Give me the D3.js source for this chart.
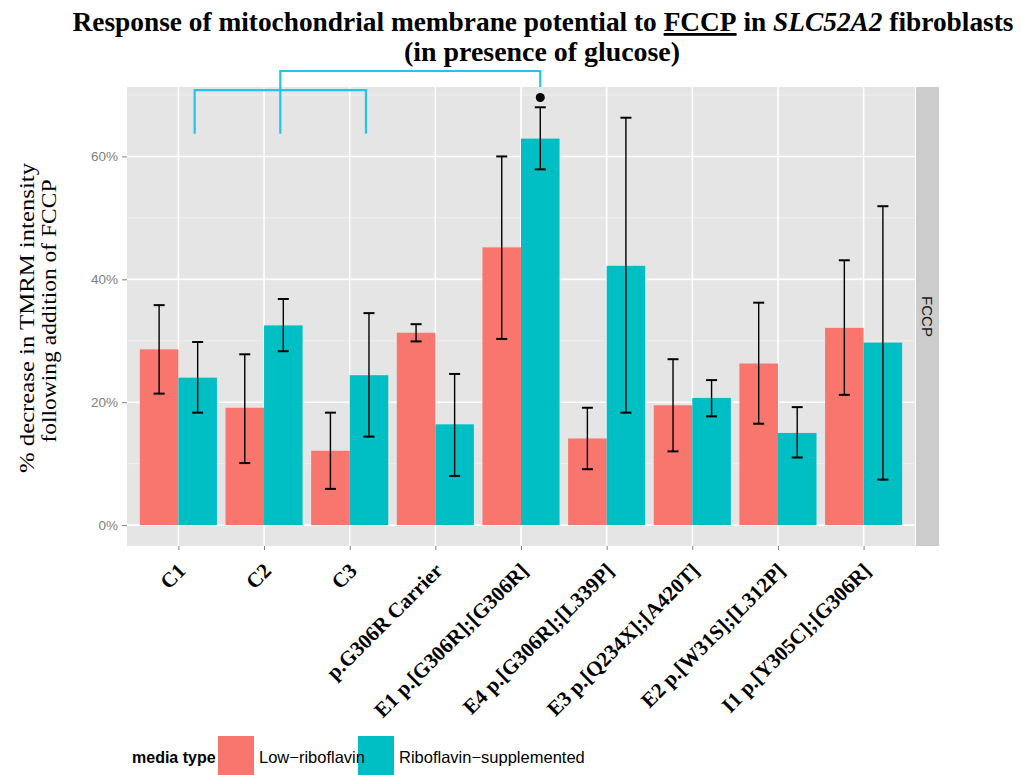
<!DOCTYPE html>
<html>
<head>
<meta charset="utf-8">
<script src="https://cdn.jsdelivr.net/npm/d3@7"></script>
<style>
  html, body { margin: 0; padding: 0; background: #fff; }
  svg { display: block; }
</style>
</head>
<body>
<svg id="chart" width="1021" height="775"></svg>
<script>
// Cell lines (x categories)
const cellLines = [
  "C1", "C2", "C3", "p.G306R Carrier", "E1 p.[G306R];[G306R]",
  "E4 p.[G306R];[L339P]", "E3 p.[Q234X];[A420T]", "E2 p.[W31S];[L312P]",
  "I1 p.[Y305C];[G306R]"
];
const mediaTypes = ["Low\u2212riboflavin", "Riboflavin\u2212supplemented"];

// Mean % decrease in TMRM intensity, with error bar bounds
const lowRiboMean  = [28.6, 19.1, 12.1, 31.3, 45.2, 14.1, 19.5, 26.3, 32.1];
const lowRiboLow   = [21.4, 10.1,  5.9, 29.9, 30.3,  9.1, 12.0, 16.5, 21.2];
const lowRiboHigh  = [35.8, 27.8, 18.3, 32.7, 60.0, 19.1, 27.0, 36.2, 43.1];
const suppMean     = [24.0, 32.5, 24.4, 16.4, 62.9, 42.2, 20.7, 15.0, 29.7];
const suppLow      = [18.3, 28.3, 14.4,  8.0, 57.9, 18.3, 17.7, 11.0,  7.4];
const suppHigh     = [29.8, 36.8, 34.5, 24.6, 68.0, 66.3, 23.6, 19.2, 51.9];

const yTicks = [0, 20, 40, 60];
const yMinorTicks = [10, 30, 50, 70];
const yDomain = [-3.4, 71.3];

// Significance annotation: controls C1–C3 grouped, compared with E1 (supplemented)
const controlGroup = ["C1", "C2", "C3"];
const comparedWith = "E1 p.[G306R];[G306R]";
const groupBracketTop = 70.8, groupBracketBottom = 63.7;
const linkBracketTop = 73.9, linkBracketBottom = 71.3;
const markerValue = 69.6;

const colors = { [mediaTypes[0]]: "#F8766D", [mediaTypes[1]]: "#00BFC4" };

const rows = cellLines.flatMap((c, i) => [
  { cell: c, media: mediaTypes[0], mean: lowRiboMean[i], lo: lowRiboLow[i], hi: lowRiboHigh[i] },
  { cell: c, media: mediaTypes[1], mean: suppMean[i], lo: suppLow[i], hi: suppHigh[i] }
]);

const svg = d3.select("#chart");
const P = { left: 127, right: 915, top: 87, bottom: 546 };

const x = d3.scalePoint().domain(cellLines).range([P.left, P.right]).padding(0.6);
const step = x.step();
const dodge = d3.scaleBand().domain(mediaTypes).range([-0.45 * step, 0.45 * step]);
const y = d3.scaleLinear().domain(yDomain).range([P.bottom, P.top]);

// Panel background
svg.append("rect")
  .attr("x", P.left).attr("y", P.top)
  .attr("width", P.right - P.left).attr("height", P.bottom - P.top)
  .attr("fill", "#E5E5E5");

// Grid
const grid = svg.append("g");
grid.selectAll(".minor").data(yMinorTicks).join("line")
  .attr("x1", P.left).attr("x2", P.right)
  .attr("y1", d => y(d)).attr("y2", d => y(d))
  .attr("stroke", "#F2F2F2").attr("stroke-width", 0.8);
grid.selectAll(".major").data(yTicks).join("line")
  .attr("x1", P.left).attr("x2", P.right)
  .attr("y1", d => y(d)).attr("y2", d => y(d))
  .attr("stroke", "#FFFFFF").attr("stroke-width", 1.6);
grid.selectAll(".vmajor").data(cellLines).join("line")
  .attr("x1", d => x(d)).attr("x2", d => x(d))
  .attr("y1", P.top).attr("y2", P.bottom)
  .attr("stroke", "#FFFFFF").attr("stroke-width", 1.6);

// Bars
svg.append("g").selectAll("rect").data(rows).join("rect")
  .attr("x", d => x(d.cell) + dodge(d.media))
  .attr("width", dodge.bandwidth())
  .attr("y", d => y(d.mean))
  .attr("height", d => y(0) - y(d.mean))
  .attr("fill", d => colors[d.media]);

// Error bars
const capHalf = 5.5;
const eb = svg.append("g").attr("stroke", "#000").attr("stroke-width", 1.4).attr("fill", "none");
rows.forEach(d => {
  const cx = x(d.cell) + dodge(d.media) + dodge.bandwidth() / 2;
  eb.append("line").attr("x1", cx).attr("x2", cx).attr("y1", y(d.hi)).attr("y2", y(d.lo));
  eb.append("line").attr("x1", cx - capHalf).attr("x2", cx + capHalf).attr("y1", y(d.hi)).attr("y2", y(d.hi)).attr("stroke-width", 2);
  eb.append("line").attr("x1", cx - capHalf).attr("x2", cx + capHalf).attr("y1", y(d.lo)).attr("y2", y(d.lo)).attr("stroke-width", 2);
});

// Y axis
const yAxis = svg.append("g")
  .attr("transform", `translate(${P.left},0)`)
  .call(d3.axisLeft(y).tickValues(yTicks).tickFormat(d => d + "%").tickSize(5).tickPadding(4));
yAxis.select(".domain").remove();
yAxis.selectAll(".tick line").attr("stroke", "#7F7F7F").attr("stroke-width", 1);
yAxis.selectAll(".tick text")
  .attr("fill", "#7F7F7F")
  .style("font-family", "'Liberation Sans', Arial, sans-serif")
  .style("font-size", "13.5px");

// X axis
const xAxis = svg.append("g")
  .attr("transform", `translate(0,${P.bottom})`)
  .call(d3.axisBottom(x).tickSize(4).tickPadding(0));
xAxis.select(".domain").remove();
xAxis.selectAll(".tick line").attr("stroke", "#7F7F7F");
xAxis.selectAll(".tick text")
  .attr("fill", "#000")
  .attr("text-anchor", "end")
  .attr("dy", 0).attr("y", 0)
  .attr("transform", "translate(8,26) rotate(-45)")
  .style("font-family", "'Liberation Serif', 'Times New Roman', serif")
  .style("font-weight", "bold")
  .style("font-size", "21px");

// Facet strip
svg.append("rect")
  .attr("x", P.right + 1).attr("y", P.top)
  .attr("width", 23).attr("height", P.bottom - P.top)
  .attr("fill", "#CCCCCC");
svg.append("text")
  .attr("transform", `translate(${P.right + 12.5},${(P.top + P.bottom) / 2}) rotate(90)`)
  .attr("text-anchor", "middle").attr("dy", "0.35em")
  .style("font-family", "'Liberation Sans', Arial, sans-serif")
  .style("font-size", "15px").attr("fill", "#1A1A1A")
  .text("FCCP");

// Significance brackets
const bx = c => x(c) + 0.19 * step;
const suppCenter = c => x(c) + dodge(mediaTypes[1]) + dodge.bandwidth() / 2;
const br = svg.append("g").attr("stroke", "#22C3EE").attr("stroke-width", 2.2).attr("fill", "none");
br.append("path").attr("d",
  `M${bx(controlGroup[0])},${y(groupBracketBottom)}V${y(groupBracketTop)}H${bx(controlGroup[2])}V${y(groupBracketBottom)}`);
br.append("path").attr("d",
  `M${bx(controlGroup[1])},${y(groupBracketBottom)}V${y(linkBracketTop)}H${suppCenter(comparedWith)}V${y(linkBracketBottom)}`);
svg.append("circle")
  .attr("cx", suppCenter(comparedWith)).attr("cy", y(markerValue))
  .attr("r", 4.5).attr("fill", "#000");

// Title: two lines, each condensed horizontally to its target width
function condensedLine(cx, cy, width, build) {
  const g = svg.append("g");
  const t = g.append("text")
    .attr("text-anchor", "middle")
    .style("font-family", "'Liberation Serif', 'Times New Roman', serif")
    .style("font-weight", "bold")
    .style("font-size", "28px")
    .attr("fill", "#000");
  build(t);
  const w = t.node().getComputedTextLength();
  g.attr("transform", `translate(${cx},${cy}) scale(${width / w},1)`);
  return t;
}
condensedLine(543, 31, 940, t => {
  t.append("tspan").text("Response of mitochondrial membrane potential to ");
  t.append("tspan").style("text-decoration", "underline").text("FCCP");
  t.append("tspan").text(" in ");
  t.append("tspan").style("font-style", "italic").text("SLC52A2");
  t.append("tspan").text(" fibroblasts");
});
condensedLine(542, 61, 276, t => t.text("(in presence of glucose)"));

// Y axis title
const yTitle = svg.append("text")
  .attr("transform", "translate(0,318) rotate(-90)")
  .attr("text-anchor", "middle")
  .style("font-family", "'Liberation Serif', 'Times New Roman', serif")
  .style("font-size", "21px").attr("fill", "#000");
yTitle.append("tspan").attr("x", 0).attr("y", 34)
  .attr("textLength", 310).attr("lengthAdjust", "spacingAndGlyphs")
  .text("% decrease in TMRM intensity");
yTitle.append("tspan").attr("x", 7).attr("y", 56)
  .attr("textLength", 263).attr("lengthAdjust", "spacingAndGlyphs")
  .text("following addition of FCCP");

// Legend
const lg = svg.append("g");
lg.append("text").attr("x", 132).attr("y", 763)
  .style("font-family", "'Liberation Sans', Arial, sans-serif")
  .style("font-weight", "bold").style("font-size", "16px")
  .text("media type");
const legendKeyX = [218, 358];
mediaTypes.forEach((m, i) => {
  lg.append("rect").attr("x", legendKeyX[i]).attr("y", 736)
    .attr("width", 36).attr("height", 40).attr("fill", colors[m]);
});
mediaTypes.forEach((m, i) => {
  lg.append("text").attr("x", legendKeyX[i] + 41).attr("y", 763)
    .style("font-family", "'Liberation Sans', Arial, sans-serif")
    .style("font-size", "16.5px").attr("fill", "#000")
    .text(m);
});
</script>
</body>
</html>
